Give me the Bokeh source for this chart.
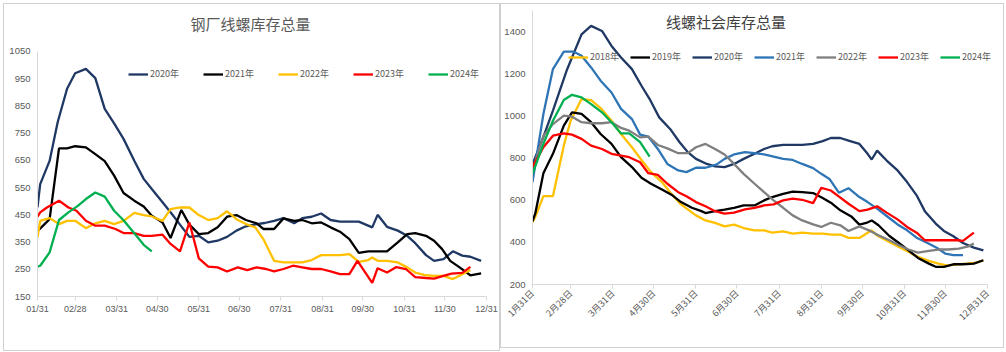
import math
from bokeh.plotting import figure
from bokeh.layouts import row, column
from bokeh.models import (ColumnDataSource, FixedTicker, Legend, LegendItem,
                          Label, Range1d)
from bokeh.embed import file_html
from bokeh.resources import INLINE

# ---------------- data ----------------
# x values are days counted from 31 Jan
month_ticks = [0, 28, 59, 89, 120, 150, 181, 212, 242, 273, 303, 334]
left_tick_labels = ["01/31", "02/28", "03/31", "04/30", "05/31", "06/30",
                    "07/31", "08/31", "09/30", "10/31", "11/30", "12/31"]
right_tick_labels = ["1月31日", "2月28日", "3月31日", "4月30日", "5月31日", "6月30日",
                     "7月31日", "8月31日", "9月30日", "10月31日", "11月30日", "12月31日"]
left_yticks = [150, 250, 350, 450, 550, 650, 750, 850, 950, 1050]
right_yticks = [200, 400, 600, 800, 1000, 1200, 1400]

# 钢厂线螺库存总量
L2020_days = [0, 2, 9, 15, 22, 28, 36, 43, 50, 57, 64, 72, 79, 85, 93, 100, 106, 113, 120, 127,
              134, 141, 148, 155, 162, 169, 176, 183, 191, 197, 204, 211, 218, 225, 232, 239,
              249, 253, 260, 268, 275, 281, 289, 295, 302, 309, 316, 322, 330]
L2020_vals = [477, 563, 648, 790, 913, 970, 986, 952, 839, 786, 729, 649, 582, 545, 496, 453, 414,
              369, 373, 349, 355, 369, 392, 408, 415, 420, 428, 438, 419, 438, 443, 455, 431, 425,
              425, 425, 404, 450, 406, 392, 373, 346, 302, 281, 287, 316, 300, 296, 281]
L2021_days = [0, 9, 16, 22, 28, 36, 43, 50, 57, 64, 72, 79, 85, 93, 99, 107, 113, 120, 127, 134,
              141, 148, 155, 163, 168, 176, 183, 191, 197, 204, 211, 218, 225, 232, 239, 246, 253,
              260, 268, 275, 281, 289, 295, 301, 307, 314, 322, 330]
L2021_vals = [390, 434, 694, 694, 702, 698, 673, 647, 594, 530, 502, 481, 447, 422, 365, 468, 414,
              379, 383, 404, 443, 449, 431, 419, 398, 398, 437, 428, 431, 419, 422, 404, 388, 361,
              310, 316, 316, 316, 349, 379, 383, 373, 355, 324, 281, 257, 228, 235]
L2022_days = [0, 2, 9, 16, 22, 28, 36, 43, 50, 57, 64, 72, 79, 85, 93, 99, 106, 113, 120, 127,
              134, 141, 148, 155, 162, 168, 176, 183, 190, 197, 204, 211, 218, 225, 232, 239, 246,
              249, 253, 260, 268, 275, 281, 289, 295, 302, 309, 316, 322]
L2022_vals = [367, 428, 438, 416, 428, 428, 401, 419, 428, 416, 428, 457, 449, 444, 428, 471, 477,
              477, 449, 431, 438, 463, 434, 416, 404, 361, 281, 275, 275, 275, 284, 302, 302, 302,
              306, 277, 284, 293, 281, 281, 275, 257, 238, 228, 226, 226, 214, 232, 247]
L2023_days = [0, 2, 7, 16, 23, 29, 36, 43, 50, 58, 64, 72, 79, 85, 93, 99, 106, 113, 120, 127,
              134, 141, 149, 156, 163, 170, 176, 183, 190, 197, 204, 211, 218, 225, 232, 238, 249,
              253, 260, 267, 274, 281, 289, 295, 302, 308, 316, 322]
L2023_vals = [443, 459, 477, 502, 477, 465, 428, 410, 410, 398, 383, 383, 373, 373, 377, 343, 316,
              422, 290, 260, 257, 242, 257, 247, 257, 251, 242, 251, 263, 257, 251, 251, 242, 232,
              232, 281, 200, 254, 238, 258, 251, 221, 218, 216, 226, 234, 237, 259]
L2024_days = [0, 2, 9, 16, 23, 30, 36, 43, 50, 57, 64, 72, 79, 85]
L2024_vals = [260, 263, 312, 431, 459, 483, 508, 532, 517, 465, 430, 382, 340, 316]

# 线螺社会库存总量
R2018_days = [0, 2, 8, 15, 23, 28, 36, 43, 50, 58, 65, 73, 80, 87, 95, 102, 109, 120, 127, 134,
              141, 148, 155, 163, 170, 176, 184, 191, 198, 206, 213, 220, 226, 232, 240, 249, 253,
              262, 269, 276, 283, 291, 298, 304, 312, 319, 326, 331]
R2018_vals = [496, 520, 619, 619, 860, 977, 1080, 1075, 1037, 977, 914, 851, 791, 733, 686, 630,
              580, 528, 504, 492, 476, 484, 468, 457, 457, 446, 452, 441, 446, 441, 441, 437, 437,
              421, 421, 457, 433, 402, 378, 355, 331, 312, 299, 291, 295, 299, 304, 315]
R2019_days = [0, 2, 8, 15, 23, 29, 36, 43, 50, 58, 65, 73, 80, 87, 95, 102, 109, 117, 124, 127,
              134, 141, 148, 155, 163, 170, 176, 184, 191, 198, 206, 213, 219, 226, 234, 240, 245,
              249, 254, 262, 269, 276, 283, 291, 296, 302, 309, 316, 324, 331]
R2019_vals = [500, 536, 728, 820, 954, 1017, 1009, 970, 914, 867, 804, 757, 706, 678, 651, 626,
              591, 564, 548, 539, 548, 555, 564, 575, 575, 599, 615, 630, 641, 638, 634, 610, 588,
              552, 523, 484, 492, 504, 481, 430, 397, 362, 326, 299, 284, 284, 296, 296, 299, 315]
R2020_days = [0, 8, 15, 25, 36, 43, 51, 58, 65, 73, 80, 86, 93, 101, 108, 114, 120, 128, 134,
              141, 148, 155, 163, 170, 176, 184, 191, 198, 206, 213, 219, 226, 232, 240, 246, 249,
              253, 260, 268, 275, 282, 288, 296, 302, 309, 316, 324, 331]
R2020_vals = [770, 900, 1025, 1214, 1387, 1427, 1403, 1332, 1277, 1222, 1143, 1080, 993, 938,
              875, 828, 796, 772, 760, 757, 772, 796, 820, 843, 856, 862, 862, 862, 867, 880, 895,
              895, 883, 867, 820, 793, 835, 788, 741, 686, 623, 548, 489, 454, 429, 397, 375, 362]
R2021_days = [0, 8, 15, 23, 30, 36, 43, 50, 58, 65, 73, 79, 85, 92, 99, 107, 113, 120, 127, 135,
              141, 148, 156, 163, 170, 177, 184, 191, 198, 206, 212, 218, 225, 232, 240, 246, 253,
              260, 268, 275, 282, 290, 297, 303, 309, 316]
R2021_vals = [686, 1009, 1222, 1305, 1305, 1285, 1230, 1167, 1111, 1033, 985, 911, 902, 843, 772,
              741, 733, 754, 754, 769, 796, 817, 828, 823, 817, 807, 796, 791, 772, 752, 725, 701,
              635, 657, 615, 591, 560, 525, 485, 457, 422, 397, 373, 347, 339, 339]
R2022_days = [0, 8, 15, 23, 29, 36, 43, 51, 58, 65, 71, 79, 85, 92, 99, 107, 114, 120, 127, 134,
              141, 148, 155, 163, 170, 177, 184, 191, 198, 206, 212, 219, 226, 232, 240, 247, 254,
              262, 269, 276, 283, 291, 298, 305, 313, 320, 324]
R2022_vals = [740, 905, 961, 1001, 996, 970, 965, 965, 970, 943, 930, 898, 902, 862, 846, 823,
              823, 851, 867, 843, 817, 772, 725, 678, 638, 599, 564, 528, 504, 485, 473, 493, 481,
              454, 476, 457, 433, 410, 386, 366, 351, 359, 366, 366, 370, 381, 394]
R2023_days = [0, 8, 15, 23, 29, 36, 43, 51, 58, 65, 71, 79, 85, 92, 99, 107, 113, 120, 127, 134,
              141, 148, 156, 163, 170, 177, 184, 191, 198, 206, 212, 219, 226, 232, 240, 246, 253,
              260, 268, 275, 282, 288, 297, 304, 312, 316, 324]
R2023_vals = [757, 851, 906, 917, 911, 891, 859, 843, 820, 812, 804, 780, 728, 720, 678, 638, 619,
              591, 571, 548, 536, 541, 556, 564, 575, 580, 599, 607, 602, 586, 659, 646, 612, 583,
              548, 555, 571, 541, 509, 473, 446, 410, 410, 410, 410, 407, 446]
R2024_days = [0, 8, 15, 23, 29, 36, 43, 51, 58, 65, 71, 79, 86]
R2024_vals = [725, 867, 977, 1075, 1100, 1088, 1056, 1017, 970, 917, 917, 875, 807]

left_series = [("2020年", L2020_days, L2020_vals, "#1F3864"),
               ("2021年", L2021_days, L2021_vals, "#000000"),
               ("2022年", L2022_days, L2022_vals, "#FFC000"),
               ("2023年", L2023_days, L2023_vals, "#FF0000"),
               ("2024年", L2024_days, L2024_vals, "#00B050")]
right_series = [("2018年", R2018_days, R2018_vals, "#FFC000"),
                ("2019年", R2019_days, R2019_vals, "#000000"),
                ("2020年", R2020_days, R2020_vals, "#1F3864"),
                ("2021年", R2021_days, R2021_vals, "#2E75B6"),
                ("2022年", R2022_days, R2022_vals, "#7F7F7F"),
                ("2023年", R2023_days, R2023_vals, "#FF0000"),
                ("2024年", R2024_days, R2024_vals, "#00B050")]

CJK = "Noto Sans CJK SC"
LAT = "Liberation Sans"
TXT = "#595959"
AX = "#D9D9D9"


def style_axes(p, yticks, xlabels, rotate):
    xa = p.xaxis[0]
    xa.ticker = FixedTicker(ticks=month_ticks)
    xa.bounds = (month_ticks[0], month_ticks[-1])
    xa.major_label_overrides = {t: s for t, s in zip(month_ticks, xlabels)}
    xa.minor_tick_line_color = None
    xa.major_tick_in = 0
    xa.major_tick_out = 4
    xa.axis_line_color = AX
    xa.major_tick_line_color = AX
    xa.major_label_text_color = TXT
    xa.major_label_text_font = CJK if rotate else LAT
    xa.major_label_text_font_size = "9px"
    xa.major_label_standoff = 3
    if rotate:
        xa.major_label_orientation = math.pi / 4
    ya = p.yaxis[0]
    ya.ticker = FixedTicker(ticks=yticks)
    ya.minor_tick_line_color = None
    ya.major_tick_in = 0
    ya.major_tick_out = 0
    ya.axis_line_color = AX
    ya.major_label_text_color = TXT
    ya.major_label_text_font = LAT
    ya.major_label_text_font_size = "9.5px"
    ya.major_label_standoff = 7
    p.grid.visible = False
    p.outline_line_color = None


def add_lines(p, series, loc, spacing):
    items = []
    for name, d, v, c in series:
        src = ColumnDataSource(dict(x=d, y=v))
        r = p.line("x", "y", source=src, line_color=c, line_width=2.3)
        items.append(LegendItem(label=name, renderers=[r]))
    leg = Legend(items=items, orientation="horizontal", location=loc,
                 spacing=spacing, padding=0, margin=0, glyph_width=20,
                 glyph_height=12, label_height=12, label_width=30, label_standoff=2,
                 label_text_font=CJK, label_text_font_size="9px",
                 label_text_color=TXT, background_fill_alpha=0,
                 border_line_color=None)
    p.add_layout(leg)


# ---------------- left chart ----------------
p1 = figure(width=495, height=346, output_backend="svg", toolbar_location=None,
            x_range=Range1d(0, 334), y_range=Range1d(150, 1200.6),
            min_border_left=33, min_border_right=13, min_border_top=6,
            min_border_bottom=54)
style_axes(p1, left_yticks, left_tick_labels, False)
p1.yaxis[0].bounds = (left_yticks[0], left_yticks[-1])
add_lines(p1, left_series, (91, 216), 23)
p1.add_layout(Label(x=158.4, y=1153, text="钢厂线螺库存总量", text_font=CJK,
                    text_font_size="15px", text_color=TXT,
                    text_align="center", text_baseline="middle"))

# ---------------- right chart ----------------
p2 = figure(width=502, height=334, output_backend="svg", toolbar_location=None,
            x_range=Range1d(0, 339.9), y_range=Range1d(200, 1500),
            min_border_left=30, min_border_right=8, min_border_top=6,
            min_border_bottom=54)
style_axes(p2, right_yticks, right_tick_labels, True)
add_lines(p2, right_series, (36, 221), 10)
p2.add_layout(Label(x=142.1, y=1447.8, text="线螺社会库存总量", text_font=CJK,
                    text_font_size="15px", text_color="#404040",
                    text_align="center", text_baseline="middle"))

box1 = column(p1, styles={"border": "1px solid #D0D0D0", "margin-left": "3px",
                          "margin-top": "3px"})
box2 = column(p2, styles={"border": "1px solid #D0D0D0", "margin-top": "3px",
                          "padding-bottom": "9px"})
layout = row(box1, box2)
open("out.html", "w").write(file_html(layout, INLINE))
